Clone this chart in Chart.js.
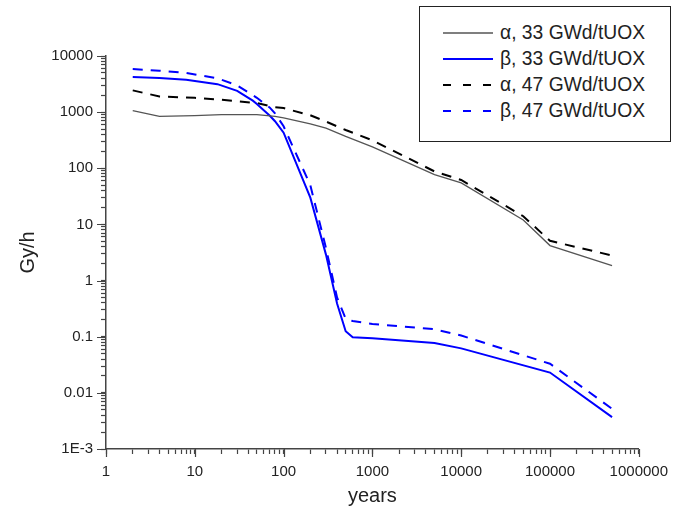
<!DOCTYPE html>
<html>
<head>
<meta charset="utf-8">
<script src="https://cdn.jsdelivr.net/npm/chart.js@4.4.1/dist/chart.umd.min.js"></script>
<style>
  body { margin: 0; background: #fff; }
  #wrap { position: relative; width: 677px; height: 512px; }
  #legend {
    position: absolute; left: 419px; top: 6px; width: 250px; height: 134px;
    border: 1.5px solid #222; background: #fff;
    font-family: Arial, "Liberation Sans", sans-serif; font-size: 19.3px; color: #222;
  }
  .row { position: absolute; left: 0; height: 22px; line-height: 22px; }
  .row svg { position: absolute; left: 23px; top: 9px; }
  .row span { position: absolute; left: 80px; white-space: nowrap; }
</style>
</head>
<body>
<div id="wrap">
  <canvas id="chart" width="677" height="512"></canvas>
  <div id="legend"></div>
</div>
<script>
// Dose rate vs cooling time, log-log

// axis labels
const xTickLabels = ['1', '10', '100', '1000', '10000', '100000', '1000000'];
const yTickLabels = ['1E-3', '0.01', '0.1', '1', '10', '100', '1000', '10000'];
const minorSteps = [1, 2, 3, 4, 5, 6, 7, 8, 9];

// alpha dose rates (Gy/h)
const alphaYears = [2, 4, 10, 20, 50, 80, 100, 200, 300, 500, 1000, 5000, 10000, 50000, 100000, 500000];
const alpha33 = [1060, 840, 870, 900, 900, 840, 790, 620, 520, 370, 240, 77, 55, 12, 4.2, 1.85];
const alpha47 = [2440, 1900, 1800, 1660, 1450, 1220, 1180, 880, 680, 480, 315, 88, 62, 14, 5.1, 2.8];

// beta dose rates (Gy/h)
const betaYears = [2, 4, 8, 18, 30, 45, 50, 70, 80, 100, 200, 300, 400, 500, 600, 1000, 5000, 10000, 100000, 500000];
const beta33 = [4230, 4050, 3780, 3150, 2400, 1600, 1400, 860, 690, 430, 30, 2.9, 0.39, 0.125, 0.098, 0.094, 0.077, 0.062, 0.023, 0.0037];
const beta47 = [5860, 5470, 4980, 4000, 3000, 2000, 1800, 1200, 950, 560, 50, 3.8, 0.5, 0.21, 0.19, 0.169, 0.136, 0.105, 0.033, 0.0052];

const seriesNames = ['\u03b1, 33 GWd/tUOX', '\u03b2, 33 GWd/tUOX', '\u03b1, 47 GWd/tUOX', '\u03b2, 47 GWd/tUOX'];

function toPoints(xs, ys) {
    return xs.map((x, i) => ({ x: x, y: ys[i] }));
}

// ticks at 1..9 of every decade, labels only on decades
function decadeTicks(labels, firstExp) {
    const ticks = [];
    labels.forEach((lab, i) => {
        const exp = firstExp + i;
        const steps = i === labels.length - 1 ? [1] : minorSteps;
        steps.forEach(s => ticks.push({ value: s * Math.pow(10, exp) }));
    });
    return ticks;
}

function isDecade(value) {
    const e = Math.log10(value);
    return Math.abs(e - Math.round(e)) < 1e-6;
}

function tickLabel(labels, firstExp) {
    return function (value) {
        if (!isDecade(value)) return '';
        return labels[Math.round(Math.log10(value)) - firstExp] || '';
    };
}

const axisColor = '#444';
const fontFamily = 'Arial, "Liberation Sans", sans-serif';
const tickFont = { family: fontFamily, size: 15 };

// longer marks on the decades
const majorTicks = {
    id: 'majorTicks',
    afterDraw(chart) {
        const ctx = chart.ctx;
        const xs = chart.scales.x, ys = chart.scales.y;
        const area = chart.chartArea;
        ctx.save();
        ctx.strokeStyle = axisColor;
        ctx.lineWidth = 1.2;
        ctx.beginPath();
        xs.ticks.forEach(t => {
            if (!isDecade(t.value)) return;
            const px = Math.round(xs.getPixelForValue(t.value)) + 0.5;
            ctx.moveTo(px, area.bottom);
            ctx.lineTo(px, area.bottom + 8);
        });
        ys.ticks.forEach(t => {
            if (!isDecade(t.value)) return;
            const py = Math.round(ys.getPixelForValue(t.value)) + 0.5;
            ctx.moveTo(area.left, py);
            ctx.lineTo(area.left - 9, py);
        });
        ctx.stroke();
        ctx.restore();
    }
};

const styles = [
    { color: '#555', width: 1.3, dash: [] },
    { color: '#0000ff', width: 2, dash: [] },
    { color: '#000', width: 2, dash: [10, 8] },
    { color: '#0000ff', width: 2, dash: [10, 8] }
];
const seriesData = [
    toPoints(alphaYears, alpha33),
    toPoints(betaYears, beta33),
    toPoints(alphaYears, alpha47),
    toPoints(betaYears, beta47)
];

new Chart(document.getElementById('chart'), {
    type: 'line',
    data: {
        datasets: seriesData.map((pts, i) => ({
            label: seriesNames[i],
            data: pts,
            borderColor: styles[i].color,
            borderWidth: styles[i].width,
            borderDash: styles[i].dash,
            pointRadius: 0,
            tension: 0,
            fill: false
        }))
    },
    options: {
        responsive: false,
        animation: false,
        layout: { padding: { top: 56, right: 34, left: 0, bottom: 4 } },
        plugins: { legend: { display: false }, tooltip: { enabled: false } },
        scales: {
            x: {
                type: 'logarithmic',
                min: 1,
                max: 1000000,
                afterBuildTicks: s => { s.ticks = decadeTicks(xTickLabels, 0); },
                afterFit: s => { s.height = 59; },
                border: { color: axisColor, width: 1.5 },
                grid: { drawOnChartArea: false, color: axisColor, tickLength: 5, tickWidth: 1.2 },
                ticks: {
                    autoSkip: false, maxRotation: 0, padding: 9,
                    color: '#222', font: tickFont,
                    callback: tickLabel(xTickLabels, 0)
                },
                title: {
                    display: true, text: 'years', color: '#222',
                    font: { family: fontFamily, size: 20 },
                    padding: { top: 4, bottom: 0 }
                }
            },
            y: {
                type: 'logarithmic',
                min: 0.001,
                max: 10000,
                afterBuildTicks: s => { s.ticks = decadeTicks(yTickLabels, -3); },
                afterFit: s => { s.width = 106; },
                border: { color: axisColor, width: 1.5 },
                grid: { drawOnChartArea: false, color: axisColor, tickLength: 5, tickWidth: 1.2 },
                ticks: {
                    autoSkip: false, padding: 8,
                    color: '#222', font: tickFont,
                    callback: tickLabel(yTickLabels, -3)
                },
                title: {
                    display: true, text: 'Gy/h', color: '#222',
                    font: { family: fontFamily, size: 20 },
                    padding: { top: 16, bottom: 0 }
                }
            }
        }
    },
    plugins: [majorTicks]
});

// legend box, built from the same names and styles
const legend = document.getElementById('legend');
const rowTops = [15, 41, 67, 93];
seriesNames.forEach((name, i) => {
    const st = styles[i];
    const row = document.createElement('div');
    row.className = 'row';
    row.style.top = rowTops[i] + 'px';
    const dash = st.dash.length ? 'stroke-dasharray="8 12"' : '';
    row.innerHTML =
        `<svg width="50" height="4"><line x1="0" y1="2" x2="50" y2="2" stroke="${st.color}" stroke-width="${st.width}" ${dash}/></svg>` +
        `<span>${name}</span>`;
    legend.appendChild(row);
});
</script>
</body>
</html>
